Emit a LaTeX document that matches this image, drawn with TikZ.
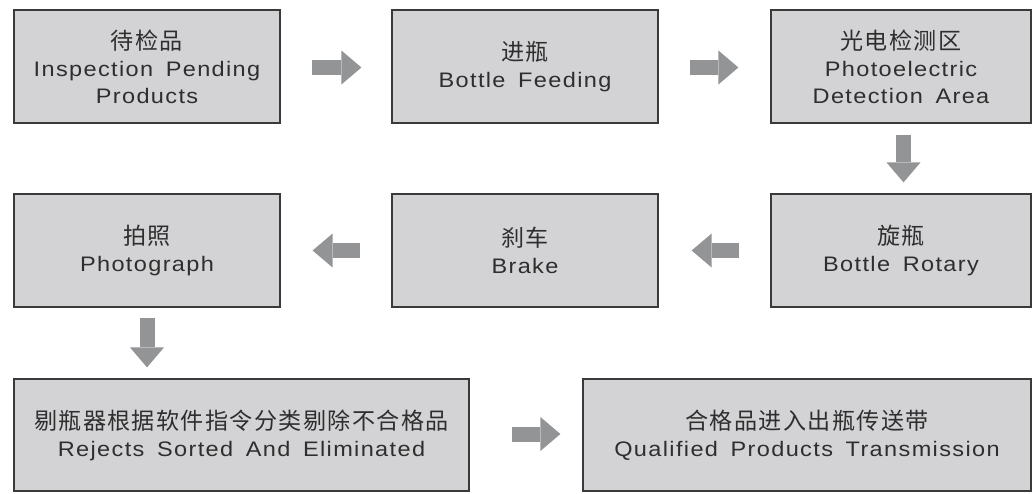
\documentclass[tikz,border=0pt]{standalone}
\usepackage{fontspec}
\setmainfont{Liberation Sans}[FakeStretch=1.12, LetterSpace=6.5, WordSpace=1.6]
\newfontfamily\cjk{Noto Sans CJK SC}[Scale=1.1, LetterSpace=6]
\usetikzlibrary{arrows.meta}
\definecolor{boxfill}{HTML}{D3D3D5}
\definecolor{boxline}{HTML}{3A3A3A}
\definecolor{arrowgray}{HTML}{939496}
\definecolor{textgray}{HTML}{2E2E2E}
\begin{document}
\begin{tikzpicture}[x=1pt,y=-1pt,
    box/.style={draw=boxline,line width=1.2pt,fill=boxfill,text=textgray,
        align=center,minimum width=266pt,minimum height=113pt,inner sep=0pt,
        font=\fontsize{21pt}{27pt}\selectfont},
    flow/.style={draw=arrowgray,line width=15pt,
        -{Triangle[length=20pt,width=34pt,line width=0pt]}}]
    \useasboundingbox (0,0) rectangle (1032,493);
    % first row
    \node[box] (pending) at (147,66.5) {{\cjk 待检品}\\Inspection Pending\\Products};
    \node[box] (feeding) at (525,66.5) {{\cjk 进瓶}\\Bottle Feeding};
    \node[box,minimum width=260pt] (detect) at (901,66.5) {{\cjk 光电检测区}\\Photoelectric\\Detection Area};
    % second row
    \node[box] (photo) at (147,250.5) {{\cjk 拍照}\\Photograph};
    \node[box] (brake) at (525,250.5) {{\cjk 刹车}\\Brake};
    \node[box,minimum width=260pt] (rotary) at (901,250.5) {{\cjk 旋瓶}\\Bottle Rotary};
    % third row
    \node[box,minimum width=455pt,minimum height=112pt] (reject) at (241.5,435) {{\cjk 剔瓶器根据软件指令分类剔除不合格品}\\Rejects Sorted And Eliminated};
    \node[box,minimum width=448pt,minimum height=112pt] (qualified) at (807,435) {{\cjk 合格品进入出瓶传送带}\\Qualified Products Transmission};
    % arrows
    \draw[flow,shorten <=31pt,shorten >=30pt] ([yshift=-1pt]pending.east) -- ([yshift=-1pt]feeding.west);
    \draw[flow,shorten <=31pt,shorten >=32pt] ([yshift=-1pt]feeding.east) -- ([yshift=-1pt]detect.west);
    \draw[flow,shorten <=11pt,shorten >=11pt] ([xshift=2.5pt]detect.south) -- ([xshift=2.5pt]rotary.north);
    \draw[flow,shorten <=31pt,shorten >=33pt] (rotary) -- (brake);
    \draw[flow,shorten <=31pt,shorten >=32pt] (brake) -- (photo);
    \draw[flow,shorten <=10pt,shorten >=11pt] (photo.south) -- (photo.south |- reject.north);
    \draw[flow,shorten <=42pt,shorten >=22pt] ([yshift=1pt]reject.east) -- ([yshift=1pt]qualified.west);
\end{tikzpicture}
\end{document}
